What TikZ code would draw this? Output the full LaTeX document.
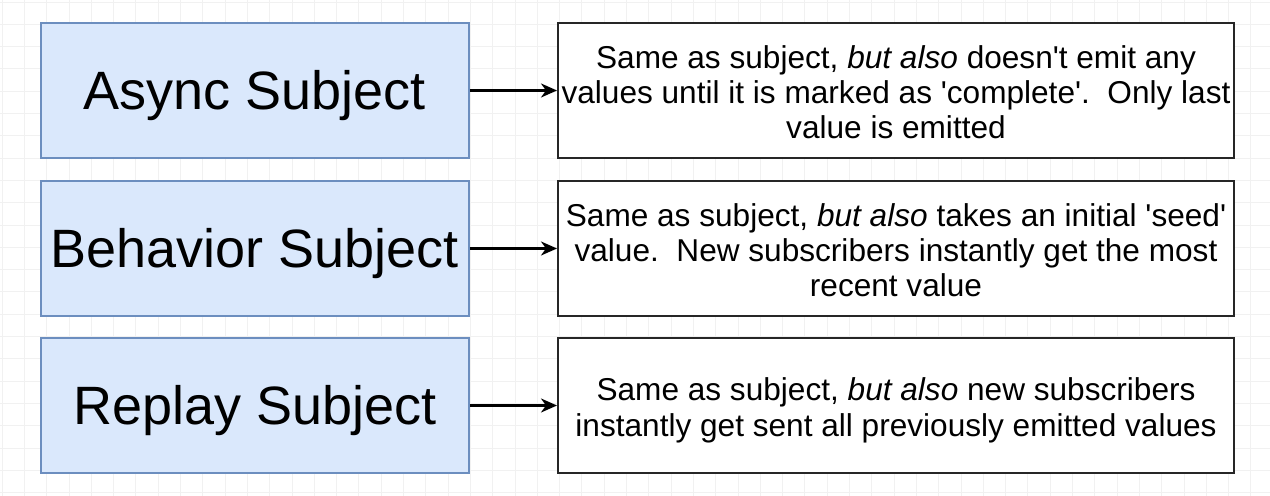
\documentclass[tikz,border=0pt]{standalone}
\usepackage{fontspec}
\setmainfont{Liberation Sans}[Ligatures=TeXOff]
\usetikzlibrary{arrows.meta}
\definecolor{bluefill}{HTML}{DAE8FC}
\definecolor{blueborder}{HTML}{6C8EBF}
\definecolor{gridcol}{HTML}{F1F1F1}
\newcommand\subjtext[1]{\raisebox{-2.5pt}[\height][\depth]{#1}}
\newcommand\desctext[1]{\raisebox{-3pt}[\height][\depth]{\begin{tabular}{@{}c@{}}#1\end{tabular}}}
\begin{document}
\begin{tikzpicture}[x=0.5pt,y=-0.5pt,
  subj/.style={draw=blueborder, fill=bluefill, line width=0.8pt, minimum width=214pt, minimum height=67.5pt, inner sep=0pt, font=\fontsize{27}{32}\selectfont},
  desc/.style={draw=black!85, fill=white, line width=1pt, minimum width=338pt, minimum height=67.5pt, inner sep=0pt, font=\fontsize{15.8}{17.6}\selectfont},
  conn/.style={-{Stealth[length=8pt,width=7pt,inset=2.5pt]}, line width=1.2pt, black}]
\useasboundingbox (0,0) rectangle (1270,496);
\fill[white] (0,0) rectangle (1270,496);
\foreach \i in {0,...,57} \draw[gridcol, line width=0.4pt] (\i*22.3+2,0) -- ++(0,496);
\foreach \j in {0,...,22} \draw[gridcol, line width=0.4pt] (0,\j*22.3+2) -- ++(1270,0);

\node[subj] (as) at (255,90.5) {\subjtext{Async Subject}};
\node[subj] (bs) at (255,248.5) {\subjtext{Behavior Subject}};
\node[subj] (rs) at (255,405.5) {\subjtext{Replay Subject}};

\node[desc] (ad) at (896,90.5) {\desctext{Same as subject, \textit{but also} doesn't emit any\\values until it is marked as 'complete'.\ \ Only last\\value is emitted}};
\node[desc] (bd) at (896,248.5) {\desctext{Same as subject, \textit{but also} takes an initial 'seed'\\value.\ \ New subscribers instantly get the most\\recent value}};
\node[desc] (rd) at (896,405.5) {\desctext{Same as subject, \textit{but also} new subscribers\\instantly get sent all previously emitted values}};

\draw[conn] (as.east) -- (ad.west);
\draw[conn] (bs.east) -- (bd.west);
\draw[conn] (rs.east) -- (rd.west);
\end{tikzpicture}
\end{document}
